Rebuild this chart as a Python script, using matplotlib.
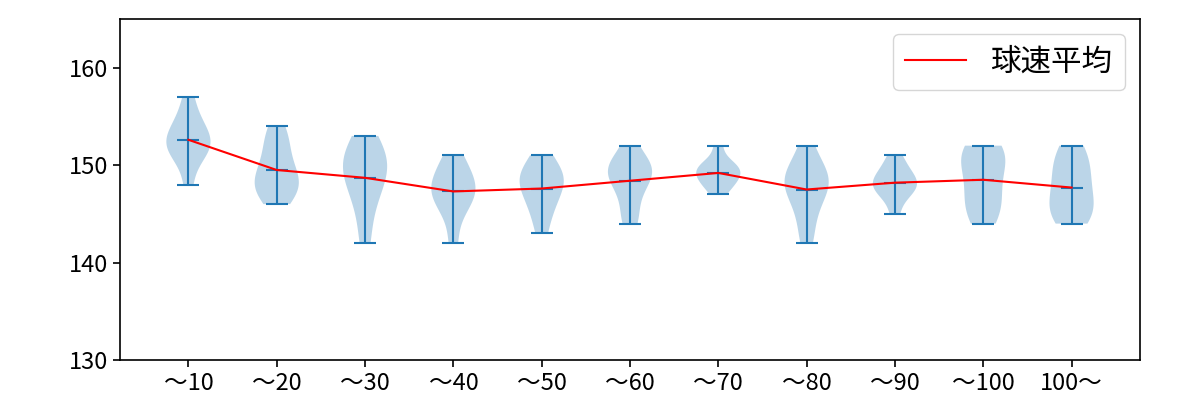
import numpy as np
import matplotlib.pyplot as plt

plt.rcParams['font.family'] = ['Noto Sans CJK JP', 'DejaVu Sans']

labels = ['～10', '～20', '～30', '～40', '～50', '～60', '～70', '～80', '～90', '～100', '100～']

# pitch speeds (km/h) per pitch-count bin
s10 = [148, 151, 151, 152, 152, 153, 153, 154, 155, 157]
s20 = [146, 147, 147, 148, 148, 149, 149, 150, 151, 152, 153, 154]
s30 = [142, 145, 147, 148, 149, 150, 150, 151, 152, 153]
s40 = [142, 145, 146, 147, 147, 148, 148, 149, 150, 151]
s50 = [143, 145, 146, 147, 148, 148, 149, 149, 150, 151]
s60 = [144, 145, 147, 148, 149, 149, 150, 150, 150, 152]
s70 = [147, 148, 148, 149, 149, 149, 150, 150, 150, 152]
s80 = [142, 144, 146, 147, 148, 148, 149, 149, 150, 152]
s90 = [145, 147, 147, 148, 148, 148, 149, 149, 150, 151]
s100 = [144, 145, 146, 147, 148, 150, 150, 151, 152, 152]
s100p = [144, 145, 145, 146, 147, 148, 149, 150, 151, 152]

data = [s10, s20, s30, s40, s50, s60, s70, s80, s90, s100, s100p]
pos = np.arange(1, len(data) + 1)
means = [np.mean(d) for d in data]

fig = plt.figure(figsize=(12, 4), dpi=100)
ax = fig.add_axes([0.1, 0.1, 0.85, 0.8525])
vp = ax.violinplot(data, showmeans=True)
for k in ('cbars', 'cmins', 'cmaxes', 'cmeans'):
    vp[k].set_linewidth(1.5)
ax.plot(pos, means, 'r', lw=1.5, label='球速平均')

ax.set_ylim(130, 165)
ax.set_yticks([130, 140, 150, 160])
ax.set_xticks(pos)
ax.set_xticklabels(labels)
ax.tick_params(labelsize=17, length=5, width=1.2)
for sp in ax.spines.values():
    sp.set_linewidth(1.2)
ax.legend(loc='upper right', fontsize=22)

plt.savefig('out.png')
